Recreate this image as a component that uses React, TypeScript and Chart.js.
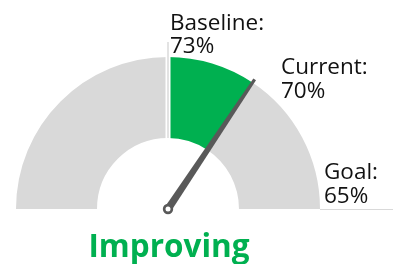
import React, { useEffect, useRef } from "react";
import { Chart, registerables } from "chart.js";

Chart.register(...registerables);

// ---- data ----
const labelNames = ["Baseline", "Current", "Goal"];
const baselineValue = 73;
const currentValue = 70;
const goalValue = 65;
const statusText = "Improving";
const segmentNames = ["Above baseline", "Improvement", "Remaining to goal"];

const GRAY = "#D9D9D9";
const GREEN = "#00B050";
const NEEDLE = "#595959";
const FONT = "'Open Sans', 'DejaVu Sans', sans-serif";

export default function App() {
  const ref = useRef<HTMLCanvasElement | null>(null);

  useEffect(() => {
    if (!ref.current) return;
    // gauge: baseline at top, goal at right end (symmetric scale)
    const scaleStart = baselineValue + (baselineValue - goalValue);
    const segments = [
      scaleStart - baselineValue,
      baselineValue - currentValue,
      currentValue - goalValue,
    ];

    const gaugePlugin = {
      id: "gauge",
      afterDatasetsDraw(chart: any) {
        const ctx = chart.ctx as CanvasRenderingContext2D;
        const meta = chart.getDatasetMeta(0);
        const a0 = meta.data[0] as any;
        const a1 = meta.data[1] as any;
        const a2 = meta.data[2] as any;
        const cx = a0.x;
        const cy = a0.y;
        const R = a0.outerRadius;
        const r = a0.innerRadius;

        ctx.save();
        // baseline gap + marker
        const bAng = a1.startAngle;
        ctx.strokeStyle = "#ffffff";
        ctx.lineWidth = 5;
        ctx.beginPath();
        ctx.moveTo(cx + Math.cos(bAng) * (r - 1), cy + Math.sin(bAng) * (r - 1));
        ctx.lineTo(cx + Math.cos(bAng) * (R + 1), cy + Math.sin(bAng) * (R + 1));
        ctx.stroke();
        ctx.strokeStyle = "#D0D0D0";
        ctx.lineWidth = 1.2;
        ctx.beginPath();
        ctx.moveTo(cx + Math.cos(bAng) * r, cy + Math.sin(bAng) * r);
        ctx.lineTo(cx + Math.cos(bAng) * (R + 15), cy + Math.sin(bAng) * (R + 15));
        ctx.stroke();

        // goal marker line
        const gAng = a2.endAngle;
        ctx.strokeStyle = "#D9D9D9";
        ctx.lineWidth = 1.2;
        ctx.beginPath();
        ctx.moveTo(cx + Math.cos(gAng) * R, cy + Math.sin(gAng) * R + 0.5);
        ctx.lineTo(chart.width, cy + Math.sin(gAng) * R + 0.5);
        ctx.stroke();

        // needle at current value
        const nAng = a1.endAngle;
        const L = R + 4;
        const ux = Math.cos(nAng), uy = Math.sin(nAng);
        const px = -uy, py = ux;
        const baseW = 3.8, tipW = 1.6;
        ctx.fillStyle = NEEDLE;
        ctx.beginPath();
        ctx.moveTo(cx + px * baseW, cy + py * baseW);
        ctx.lineTo(cx + ux * L + px * tipW, cy + uy * L + py * tipW);
        ctx.lineTo(cx + ux * L - px * tipW, cy + uy * L - py * tipW);
        ctx.lineTo(cx - px * baseW, cy - py * baseW);
        ctx.closePath();
        ctx.fill();
        ctx.beginPath();
        ctx.arc(cx, cy, 5.2, 0, Math.PI * 2);
        ctx.fill();
        ctx.fillStyle = "#ffffff";
        ctx.beginPath();
        ctx.arc(cx, cy, 2.5, 0, Math.PI * 2);
        ctx.fill();

        // labels
        ctx.fillStyle = "#111111";
        ctx.font = `22.5px ${FONT}`;
        ctx.textAlign = "left";
        ctx.textBaseline = "alphabetic";
        const lh = 23.5;
        const drawLabel = (name: string, v: number, x: number, y: number) => {
          ctx.fillText(name + ":", x, y);
          ctx.fillText(v + "%", x, y + lh);
        };
        drawLabel(labelNames[0], baselineValue, cx + 2, cy - R - 27.5);
        drawLabel(labelNames[1], currentValue, cx + 113, cy - R + 17);
        drawLabel(labelNames[2], goalValue, cx + R + 4, cy - 30);

        // status
        ctx.fillStyle = GREEN;
        ctx.font = `bold 31.5px ${FONT}`;
        ctx.textAlign = "center";
        ctx.fillText(statusText, cx + 1, cy + 48);
        ctx.restore();
      },
    };

    const chart = new Chart(ref.current, {
      type: "doughnut",
      data: {
        labels: segmentNames,
        datasets: [
          {
            data: segments,
            backgroundColor: [GRAY, GREEN, GRAY],
            borderWidth: 0,
          },
        ],
      },
      options: {
        animation: false,
        responsive: false,
        rotation: -90,
        circumference: 180,
        cutout: "46.7%",
        layout: { padding: { left: 16, right: 73, top: 57, bottom: 55 } },
        plugins: {
          legend: { display: false },
          tooltip: { enabled: false },
        },
      },
      plugins: [gaugePlugin],
    });
    return () => chart.destroy();
  }, []);

  return (
    <div style={{ position: "absolute", left: 0, top: 0, width: 393, height: 264, background: "#fff" }}>
      <canvas ref={ref} width={393} height={264} style={{ display: "block" }} />
    </div>
  );
}
